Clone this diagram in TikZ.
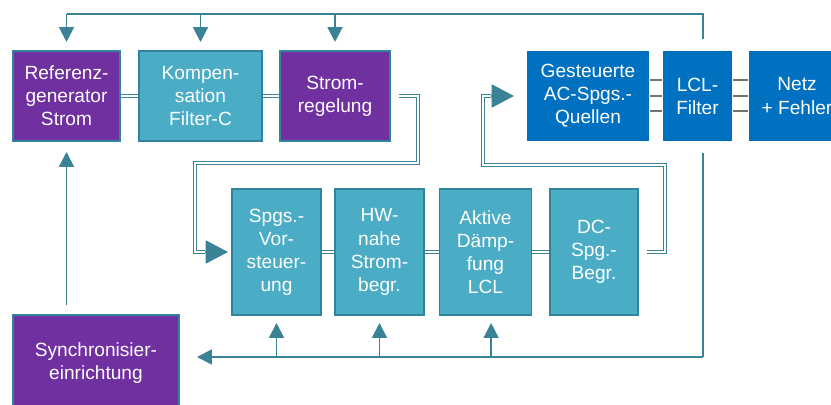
\documentclass[tikz,border=0pt]{standalone}
\usepackage{fontspec}
\setmainfont{Liberation Sans}
\usetikzlibrary{arrows.meta}
\definecolor{lila}{HTML}{7030A0}
\definecolor{tuerkis}{HTML}{4BACC6}
\definecolor{tuerkisrand}{HTML}{31849B}
\definecolor{blau}{HTML}{0070C0}
\definecolor{linie}{HTML}{3A8295}
\tikzset{
    blk/.style={rectangle, inner sep=0pt, align=center, text=white,
        font=\fontsize{13.6}{16.4}\selectfont, line width=1.4pt,
        minimum height=2.25cm},
    lilablk/.style={blk, fill=lila, draw=tuerkisrand},
    tuerkisblk/.style={blk, fill=tuerkis, draw=tuerkisrand},
    blaublk/.style={blk, fill=blau},
    con/.style={draw=linie, line width=1.4pt},
    pfeil/.style={con, -{Triangle[length=10.5pt, width=10.5pt]}},
    bigpfeil/.style={con, -{Triangle[length=16pt, width=16.5pt]}},
    dbl/.style={draw=linie, line width=0.6pt, double=white, double distance=1.3pt},
    grau/.style={draw=black!55, line width=0.8pt}
}

\begin{document}
\begin{tikzpicture}[x=0.025cm, y=-0.025cm]
    \useasboundingbox (0,0) rectangle (831,405);

    \node[lilablk, minimum width=2.675cm] (ref) at (66.5,96) {Referenz-\\generator\\Strom};
    \node[tuerkisblk, minimum width=3.075cm] (komp) at (200.5,96) {Kompen-\\sation\\Filter-C};
    \node[lilablk, minimum width=2.75cm] (strom) at (335,96) {Strom-\\regelung};
    \node[blaublk, minimum width=3.05cm] (ac) at (588,96) {Gesteuerte\\AC-Spgs.-\\Quellen};
    \node[blaublk, minimum width=1.725cm] (lcl) at (697.5,96) {LCL-\\Filter};
    \node[blaublk, minimum width=2.4cm] (netz) at (797,96) {Netz\\+ Fehler};

    \node[tuerkisblk, minimum width=2.225cm, minimum height=3.15cm] (vorst) at (276.5,252) {Spgs.-\\Vor-\\steuer-\\ung};
    \node[tuerkisblk, minimum width=2.225cm, minimum height=3.15cm] (hwnahe) at (379.5,252) {HW-\\nahe\\Strom-\\begr.};
    \node[tuerkisblk, minimum width=2.3cm, minimum height=3.15cm] (daempf) at (485.5,252) {Aktive\\Dämp-\\fung\\LCL};
    \node[tuerkisblk, minimum width=2.2cm, minimum height=3.15cm] (dcbegr) at (594,252) {DC-\\Spg.-\\Begr.};

    \node[lilablk, minimum width=4.15cm, minimum height=2.4cm] (sync) at (96,363) {Synchronisier-\\einrichtung};

    \coordinate (oben) at (703,14);
    \coordinate (unten) at (703,357);
    \coordinate (k1) at (418,163);
    \coordinate (k2) at (195,252);
    \coordinate (k3) at (665,165);
    \coordinate (k4) at (483,96);

    \draw[con] ([yshift=0.275cm]lcl.north -| oben) -- (oben) -- (ref.north |- oben);
    \foreach \n in {ref, komp, strom}
        \draw[pfeil, shorten >=0.2cm] (\n.north |- oben) -- (\n.north);

    \draw[pfeil, shorten <=0.225cm, shorten >=0.25cm] (sync.north -| ref.south) -- (ref.south);

    \draw[con] ([yshift=-0.275cm]lcl.south -| unten) -- (unten);
    \draw[pfeil, shorten >=0.425cm] (unten) -- (sync.east |- unten);
    \foreach \n in {vorst, hwnahe}
        \draw[pfeil, shorten >=0.175cm] (\n.south |- unten) -- (\n.south);
    \draw[pfeil, shorten >=0.175cm] ([xshift=0.14cm]daempf.south |- unten) -- ([xshift=0.14cm]daempf.south);

    \draw[dbl] (ref.east) -- (komp.west);
    \draw[dbl] (komp.east) -- (strom.west);
    \draw[dbl] (vorst.east) -- (hwnahe.west);
    \draw[dbl] (hwnahe.east) -- (daempf.west);
    \draw[dbl] (daempf.east) -- (dcbegr.west);

    \draw[dbl] ([xshift=0.2cm]strom.east) -| (k1) -| (k2) -- ([xshift=-0.65cm]vorst.west);
    \draw[bigpfeil, shorten >=0.075cm] ([xshift=-0.65cm]vorst.west) -- (vorst.west);

    \draw[dbl] ([xshift=0.2cm]dcbegr.east) -| (k3) -| (k4) -- ([xshift=-0.875cm]ac.west);
    \draw[bigpfeil, shorten >=0.3cm] ([xshift=-0.875cm]ac.west) -- (ac.west);

    \foreach \dy in {0.4, 0, -0.375} {
        \draw[grau] ([yshift=\dy cm]ac.east) -- ([yshift=\dy cm]lcl.west);
        \draw[grau] ([yshift=\dy cm]lcl.east) -- ([yshift=\dy cm]netz.west);
    }
\end{tikzpicture}
\end{document}
